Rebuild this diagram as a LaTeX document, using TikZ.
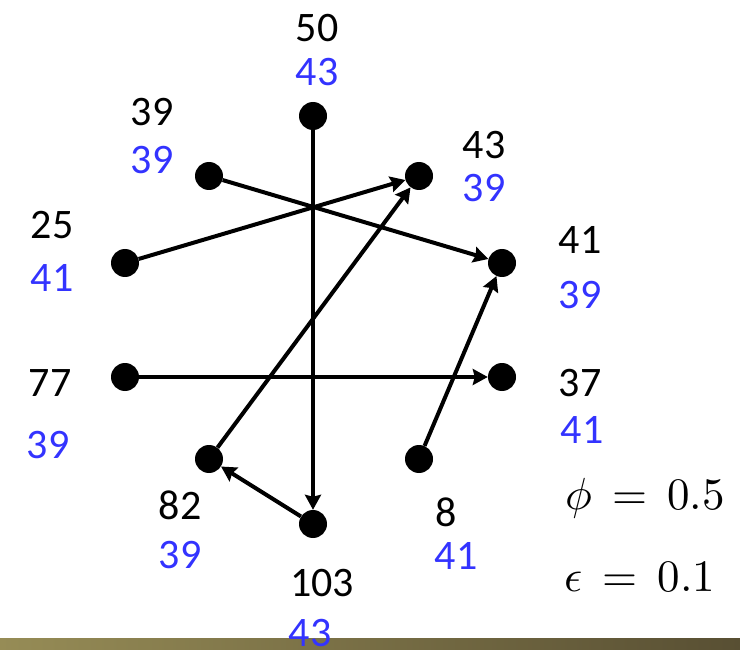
\documentclass[tikz,border=0pt]{standalone}
\usepackage{unicode-math}
\setmainfont{Carlito}
\usetikzlibrary{arrows.meta}
\definecolor{lblblue}{RGB}{51,51,255}
\definecolor{barA}{RGB}{150,140,86}
\definecolor{barB}{RGB}{88,79,51}
\begin{document}
\begin{tikzpicture}[x=1pt,y=-1pt,
  dot/.style={circle,fill=black,minimum size=28pt,inner sep=0pt},
  edge/.style={line width=4pt,-{Stealth[length=15pt,width=16pt,inset=2pt]}},
  num/.style={font=\fontsize{42}{50}\selectfont,inner sep=0pt},
  blu/.style={num,text=lblblue},
  mth/.style={font=\fontsize{45}{52}\selectfont,inner sep=0pt}]
\useasboundingbox (0,0) rectangle (740,650);
\shade[left color=barA,right color=barB] (0,638) rectangle (740,650);
% nodes
\node[dot] (A) at (313,116) {};
\node[dot] (B) at (209,176) {};
\node[dot] (C) at (419,176) {};
\node[dot] (D) at (125,263) {};
\node[dot] (E) at (502,263) {};
\node[dot] (F) at (125,377) {};
\node[dot] (G) at (502,377) {};
\node[dot] (H) at (209,459) {};
\node[dot] (I) at (419,459) {};
\node[dot] (J) at (313,524) {};
% edges
\draw[edge] (A) -- (J);
\draw[edge] (B) -- (E);
\draw[edge] (D) -- (C);
\draw[edge] (H) -- (C);
\draw[edge] (F) -- (G);
\draw[edge] (I) -- (E);
\draw[edge] (J) -- (H);
% labels
\node[num] (la1) at (317,28) {50};  \node[blu] (la2) at (317,72) {43};
\node[num] (lb1) at (152,112) {39}; \node[blu] (lb2) at (152,160) {39};
\node[num] (lc1) at (484,145) {43}; \node[blu] (lc2) at (484,188) {39};
\node[num] (ld1) at (52,225) {25};  \node[blu] (ld2) at (52,278) {41};
\node[num] (le1) at (580,240) {41}; \node[blu] (le2) at (580,295) {39};
\node[num] (lf1) at (50,383) {77};  \node[blu] (lf2) at (48,445) {39};
\node[num] (lg1) at (580,383) {37}; \node[blu] (lg2) at (582,430) {41};
\node[num] (lh1) at (180,505) {82}; \node[blu] (lh2) at (180,555) {39};
\node[num] (li1) at (446,512) {8};  \node[blu] (li2) at (456,556) {41};
\node[num] (lj1) at (322,583) {103};\node[blu] (lj2) at (310,633) {43};
\node[mth] (phi) at (645,498) {$\phi\mskip3mu=\mskip3mu 0.5$};
\node[mth] (eps) at (640,577) {$\epsilon\mskip3mu=\mskip3mu 0.1$};
\end{tikzpicture}
\end{document}
